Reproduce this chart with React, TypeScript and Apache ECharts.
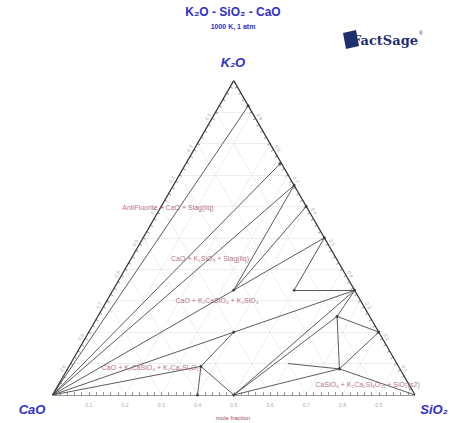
import React, { useEffect, useRef } from 'react';
import * as echarts from 'echarts';

const S3 = Math.sqrt(3) / 2;

// invariant points / compounds: [SiO2 fraction, K2O fraction]
const nodeIds = ['CaO', 'SiO2', 'K2O', 'A', 'B', 'K4SiO4', 'K6Si2O7', 'K2SiO3', 'K2Si2O5', 'K2Si4O9', 'K2CaSiO4', 'K4CaSi3O9', 'K2Ca2Si2O7', 'F', 'G', 'H', 'K2Ca6Si4O15', 'Ca3Si2O7', 'CaSiO3'];
const nodeSiO2 = [0, 1, 0, 0.08, 0.26, 0.333, 0.4, 0.5, 0.667, 0.8, 0.333, 0.5, 0.4, 0.66, 0.75, 0.6, 0.364, 0.4, 0.5];
const nodeK2O = [0, 0, 1, 0.92, 0.735, 0.667, 0.6, 0.5, 0.333, 0.2, 0.333, 0.333, 0.2, 0.25, 0.083, 0.1, 0.091, 0, 0];
const dotIds = ['A', 'B', 'K4SiO4', 'K6Si2O7', 'K2SiO3', 'K2Si2O5', 'K2Si4O9', 'K2CaSiO4', 'K4CaSi3O9', 'K2Ca2Si2O7', 'F', 'G', 'K2Ca6Si4O15', 'Ca3Si2O7', 'CaSiO3'];

const tieLines: [string, string][] = [
  ['CaO', 'A'], ['CaO', 'B'], ['CaO', 'K4SiO4'], ['CaO', 'K2SiO3'], ['K4SiO4', 'K2CaSiO4'], ['K6Si2O7', 'K2CaSiO4'],
  ['K2SiO3', 'K4CaSi3O9'], ['K4CaSi3O9', 'K2Si2O5'], ['CaO', 'K2Si2O5'],
  ['CaO', 'K2Ca6Si4O15'], ['K2Ca6Si4O15', 'Ca3Si2O7'], ['K2Ca6Si4O15', 'CaSiO3'],
  ['K2Ca6Si4O15', 'K2Ca2Si2O7'], ['K2Si2O5', 'CaSiO3'], ['K2Si2O5', 'F'], ['F', 'K2Si4O9'],
  ['F', 'G'], ['F', 'CaSiO3'], ['G', 'K2Si4O9'], ['G', 'SiO2'], ['G', 'CaSiO3'], ['G', 'H'],
];

const regionLabels = ['AntiFluorite + CaO + Slag(liq)', 'CaO + K₂SiO₃ + Slag(liq)', 'CaO + K₂CaSiO₄ + K₂SiO₃', 'CaO + K₂CaSiO₄ + K₂Ca₆Si₄O₁₅', 'CaSiO₃ + K₂Ca₂Si₉O₂₁ + SiO₂(s2)'];
const regionSiO2 = [0.02, 0.217, 0.303, 0.231, 0.853];
const regionK2O = [0.597, 0.435, 0.302, 0.086, 0.032];

const tickValues = [0.1, 0.2, 0.3, 0.4, 0.5, 0.6, 0.7, 0.8, 0.9];
const tickLabels = ['0.1', '0.2', '0.3', '0.4', '0.5', '0.6', '0.7', '0.8', '0.9'];

const xy = (s: number, k: number): [number, number] => [s + k / 2, k * S3];
const nodeXY = (id: string) => {
  const i = nodeIds.indexOf(id);
  return xy(nodeSiO2[i], nodeK2O[i]);
};

export default function App() {
  const ref = useRef<HTMLDivElement>(null);
  useEffect(() => {
    const chart = echarts.init(ref.current!, null, { renderer: 'svg' });

    const gridSegs: any[] = [];
    tickValues.forEach((v) => {
      gridSegs.push({ coords: [xy(0, v), xy(1 - v, v)] });
      gridSegs.push({ coords: [xy(v, 0), xy(v, 1 - v)] });
      gridSegs.push({ coords: [xy(1 - v, 0), xy(0, 1 - v)] });
    });

    const tickSegs: any[] = [];
    const L = 0.008;
    for (let i = 1; i < 50; i++) {
      const t = i / 50;
      const b = xy(t, 0);
      tickSegs.push({ coords: [b, [b[0], b[1] + L]] });
      const l = xy(0, t);
      tickSegs.push({ coords: [l, [l[0] + L * 0.866, l[1] - L * 0.5]] });
      const r = xy(1 - t, t);
      tickSegs.push({ coords: [r, [r[0] - L * 0.866, r[1] - L * 0.5]] });
    }

    const edges = [['CaO', 'SiO2'], ['SiO2', 'K2O'], ['K2O', 'CaO']].map(([a, b]) => ({ coords: [nodeXY(a), nodeXY(b)] }));
    const ties = tieLines.map(([a, b]) => ({ coords: [nodeXY(a), nodeXY(b)] }));

    const tickLabelStyle = { show: true, fontSize: 5, color: '#8a8a8a', fontFamily: 'Liberation Sans' };
    const bottomLabels = tickValues.map((v, i) => ({ value: xy(v, 0), label: { ...tickLabelStyle, formatter: tickLabels[i], position: 'inside', offset: [0, 10] } }));
    const leftLabels = tickValues.map((v, i) => ({ value: xy(0, 1 - v), label: { ...tickLabelStyle, formatter: tickLabels[i], position: 'inside', offset: [-8, -4.5], rotate: 60 } }));
    const rightLabels = tickValues.map((v, i) => ({ value: xy(1 - v, v), label: { ...tickLabelStyle, formatter: tickLabels[i], position: 'inside', offset: [8, -4.5], rotate: -60 } }));

    const regions = regionLabels.map((t, i) => ({ value: xy(regionSiO2[i], regionK2O[i]), label: { show: true, formatter: t, position: 'inside', fontSize: 7, color: '#a0485a', fontFamily: 'Liberation Sans' } }));

    const blue = '#3030c8';
    const font = 'Liberation Sans';
    const centered = { textAlign: 'center', textVerticalAlign: 'middle', align: 'center', verticalAlign: 'middle' };
    chart.setOption({
      animation: false,
      grid: { left: 52.5, right: 39, top: 80.6, bottom: 28 },
      xAxis: { type: 'value', min: 0, max: 1, show: false },
      yAxis: { type: 'value', min: 0, max: S3, show: false },
      series: [
        { type: 'lines', coordinateSystem: 'cartesian2d', data: gridSegs, silent: true, lineStyle: { color: '#e6e6e6', width: 0.7, opacity: 1 }, z: 1 },
        { type: 'lines', coordinateSystem: 'cartesian2d', data: ties, silent: true, lineStyle: { color: '#4a4a4a', width: 0.9, opacity: 1 }, z: 3 },
        { type: 'lines', coordinateSystem: 'cartesian2d', data: tickSegs, silent: true, lineStyle: { color: '#666', width: 0.7, opacity: 1 }, z: 3 },
        { type: 'lines', coordinateSystem: 'cartesian2d', data: edges, silent: true, lineStyle: { color: '#333', width: 1.2, opacity: 1 }, z: 4 },
        { type: 'scatter', data: dotIds.map((id) => nodeXY(id)), symbolSize: 3, itemStyle: { color: '#333' }, silent: true, z: 5 },
        { type: 'scatter', data: [...bottomLabels, ...leftLabels, ...rightLabels], symbolSize: 0, silent: true, z: 5 },
        { type: 'scatter', data: regions, symbolSize: 0, silent: true, z: 6 },
      ],
      graphic: [
        { type: 'text', x: 233, y: 12, style: { text: 'K₂O - SiO₂ - CaO', fill: blue, font: `bold 12px "${font}"`, ...centered } },
        { type: 'text', x: 233, y: 26, style: { text: '1000 K, 1 atm', fill: blue, font: `bold 7px "${font}"`, ...centered } },
        { type: 'text', x: 233, y: 62, style: { text: 'K₂O', fill: blue, font: `italic bold 13px "${font}"`, ...centered } },
        { type: 'text', x: 32, y: 409, style: { text: 'CaO', fill: blue, font: `italic bold 13px "${font}"`, ...centered } },
        { type: 'text', x: 434, y: 409, style: { text: 'SiO₂', fill: blue, font: `italic bold 13px "${font}"`, ...centered } },
        { type: 'text', x: 233, y: 418, style: { text: 'mole fraction', fill: '#a0485a', font: `6px "${font}"`, ...centered } },
        { type: 'polygon', shape: { points: [[343, 33], [356, 30], [359, 46], [346, 49]] }, style: { fill: '#1f2f6e' } },
        { type: 'text', x: 352, y: 40, style: { text: 'FactSage', fill: '#1f2f6e', font: `bold 13px "DejaVu Serif"`, textAlign: 'left', textVerticalAlign: 'middle', align: 'left', verticalAlign: 'middle' } },
        { type: 'text', x: 419, y: 33, style: { text: '®', fill: '#1f2f6e', font: `5px "${font}"`, textAlign: 'left', textVerticalAlign: 'middle', align: 'left', verticalAlign: 'middle' } },
      ],
    });
    return () => chart.dispose();
  }, []);
  return <div ref={ref} style={{ position: 'absolute', left: 0, top: 0, width: 454, height: 423 }} />;
}
